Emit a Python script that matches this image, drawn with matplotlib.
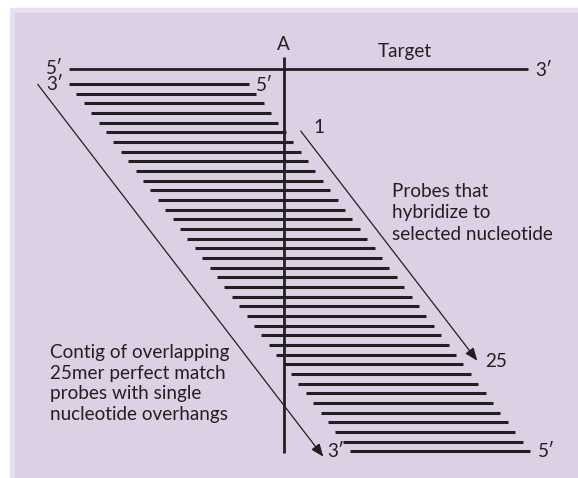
import matplotlib
matplotlib.use("Agg")
import matplotlib.pyplot as plt
from matplotlib.patches import Rectangle
import numpy as np

# probe numbers (probe 1 ends on nucleotide A, probe 25 starts on A)
probe_nums = np.arange(-4, 35)
probe_len = 25          # 25mer
target_span = (-29, 33)  # target strand, in nucleotides relative to A

contig_text = ["Contig of overlapping", "25mer perfect match",
               "probes with single", "nucleotide overhangs"]
probe_text = ["Probes that", "hybridize to", "selected nucleotide"]

# layout (pixels)
A_X = 283.5
NT_W = 7.4       # px per nucleotide
ROW_H = 9.67     # px per probe row
ROW1_Y = 132.3   # y of probe 1
INK = "#231f20"
BG = "#dcd1e4"
EDGE = "#e7e0f0"
FS = 13.6


def px(nt):
    return A_X + nt * NT_W


def py(num):
    return ROW1_Y + (num - 1) * ROW_H


fig = plt.figure(figsize=(5.78, 4.78), dpi=100)
ax = fig.add_axes([0, 0, 1, 1])
ax.set_xlim(0, 578)
ax.set_ylim(478, 0)
ax.axis("off")
plt.rcParams["font.family"] = ["Lato", "DejaVu Sans"]

# background box
ax.add_patch(Rectangle((10, 8), 570, 472, color=EDGE, zorder=0))
ax.add_patch(Rectangle((15, 13), 565, 467, color=BG, zorder=0))

# target strand
ty = py(1) - 6.5 * ROW_H
ax.plot([px(target_span[0]), px(target_span[1])], [ty, ty], color=INK,
        lw=2.0, solid_capstyle="butt")

# probes
for n in probe_nums:
    s = n - 25
    ax.plot([px(s), px(s + probe_len - 0.7)], [py(n), py(n)], color=INK,
            lw=2.2, solid_capstyle="butt")

# position A
ax.plot([A_X, A_X], [57, 453], color=INK, lw=2.0, solid_capstyle="butt")
ax.text(A_X, 44, "A", ha="center", va="center", fontsize=FS, color=INK)

# arrows
arrow = dict(arrowstyle="-|>,head_length=0.55,head_width=0.22", lw=0.9,
             color=INK, shrinkA=0, shrinkB=0, mutation_scale=14)
ax.annotate("", xy=(323.3, 456.7), xytext=(37.7, 84.3), arrowprops=arrow)
ax.annotate("", xy=(477.3, 360.7), xytext=(300.7, 131), arrowprops=arrow)

# end labels
ax.text(63, ty - 1, "5\u2032", ha="right", va="center", fontsize=FS, color=INK)
ax.text(63, py(-4) + 1, "3\u2032", ha="right", va="center", fontsize=FS, color=INK)
ax.text(256, py(-4) + 2, "5\u2032", ha="left", va="center", fontsize=FS, color=INK)
ax.text(535, ty + 1, "3\u2032", ha="left", va="center", fontsize=FS, color=INK)
ax.text(327, py(34) + 0.5, "3\u2032", ha="left", va="center", fontsize=FS, color=INK)
ax.text(538, py(34) + 0.5, "5\u2032", ha="left", va="center", fontsize=FS, color=INK)
ax.text(319, 127, "1", ha="center", va="center", fontsize=FS, color=INK)
ax.text(485, 361.5, "25", ha="left", va="center", fontsize=FS, color=INK)
ax.text(405, 51, "Target", ha="center", va="center", fontsize=FS, color=INK)

for i, line in enumerate(probe_text):
    ax.text(391.7, 196.7 + i * 21.6, line, ha="left", va="baseline",
            fontsize=FS, color=INK)
for i, line in enumerate(contig_text):
    ax.text(50, 358.3 + i * 20.6, line, ha="left", va="baseline",
            fontsize=FS, color=INK)

fig.savefig("out.png", dpi=100)
